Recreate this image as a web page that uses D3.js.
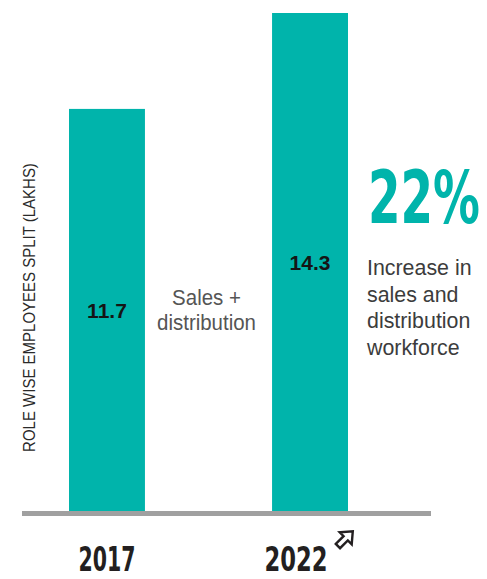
<!DOCTYPE html>
<html>
<head>
<meta charset="utf-8">
<script src="https://cdn.jsdelivr.net/npm/d3@7/dist/d3.min.js"></script>
<style>
  html, body { margin: 0; padding: 0; background: #ffffff; }
  svg { display: block; }
  .display { font-family: 'DejaVu Sans Condensed', 'DejaVu Sans', sans-serif; font-weight: 700; font-stretch: condensed; }
  .body { font-family: 'Liberation Sans', Arial, Helvetica, sans-serif; }
</style>
</head>
<body>
<svg id="chart" width="487" height="579"></svg>
<script>
// Role-wise employees, sales + distribution (lakhs)
const years = ["2017", "2022"];
const values = [11.7, 14.3];
const valueLabels = ["11.7", "14.3"];
const axisTitle = "ROLE WISE EMPLOYEES SPLIT (LAKHS)";
const seriesName = ["Sales +", "distribution"];
const growthLabel = "22%";
const growthNote = ["Increase in", "sales and", "distribution", "workforce"];
const yDomain = [0.8, 14.3];

const teal = "#00b4ab";
const svg = d3.select("#chart");

const x = d3.scaleBand()
  .domain(years)
  .range([28.4, 388.6])
  .paddingInner(0.626)
  .paddingOuter(0.2);

const y = d3.scaleLinear()
  .domain(yDomain)
  .range([511, 13]);

const data = years.map((yr, i) => ({ year: yr, value: values[i], label: valueLabels[i] }));

// bars
svg.append("g")
  .selectAll("rect")
  .data(data)
  .join("rect")
  .attr("x", d => x(d.year))
  .attr("y", d => y(d.value))
  .attr("width", x.bandwidth())
  .attr("height", d => y(yDomain[0]) - y(d.value))
  .attr("fill", teal);

// value labels in the middle of each bar
svg.append("g")
  .selectAll("text")
  .data(data)
  .join("text")
  .attr("class", "body")
  .attr("x", d => x(d.year) + x.bandwidth() / 2)
  .attr("y", d => (y(d.value) + y(yDomain[0])) / 2 + 8)
  .attr("text-anchor", "middle")
  .attr("font-size", 21)
  .attr("font-weight", 700)
  .attr("fill", "#151515")
  .text(d => d.label);

// baseline
svg.append("rect")
  .attr("x", 22)
  .attr("y", y(yDomain[0]))
  .attr("width", 409)
  .attr("height", 5)
  .attr("fill", "#a0a0a0");

// year labels (tall condensed display type)
svg.append("g")
  .selectAll("text")
  .data(data)
  .join("text")
  .attr("class", "display")
  .attr("transform", (d, i) => {
    const cx = x(d.year) + x.bandwidth() / 2 - (i === data.length - 1 ? 14 : 0);
    return `translate(${cx},571) scale(${i === data.length - 1 ? 1.05 : 0.95},1.43)`;
  })
  .attr("text-anchor", "middle")
  .attr("font-size", 24)
  .attr("fill", "#231f20")
  .text(d => d.year);

// outlined up-right arrow beside the latest year
svg.append("path")
  .attr("d", "M-10,-3 L1,-3 L1,-8.5 L11,0 L1,8.5 L1,3 L-10,3 Z")
  .attr("transform", "translate(345,539) rotate(-45)")
  .attr("fill", "#ffffff")
  .attr("stroke", "#231f20")
  .attr("stroke-width", 2.4)
  .attr("stroke-linejoin", "miter");

// y-axis title
svg.append("text")
  .attr("class", "body")
  .attr("transform", "translate(35,307.5) rotate(-90) scale(0.937,1)")
  .attr("text-anchor", "middle")
  .attr("font-size", 16)
  .attr("fill", "#2a2a2a")
  .text(axisTitle);

// series annotation between the bars
svg.append("g")
  .selectAll("text")
  .data(seriesName)
  .join("text")
  .attr("class", "body")
  .attr("transform", (d, i) => `translate(206.5,${305 + i * 25}) scale(0.93,1)`)
  .attr("text-anchor", "middle")
  .attr("font-size", 22)
  .attr("fill", "#555555")
  .text(d => d);

// growth callout
svg.append("text")
  .attr("class", "display")
  .attr("transform", "translate(368,223) scale(1,1.4)")
  .attr("font-size", 52)
  .attr("textLength", 112)
  .attr("lengthAdjust", "spacingAndGlyphs")
  .attr("fill", teal)
  .text(growthLabel);

svg.append("g")
  .selectAll("text")
  .data(growthNote)
  .join("text")
  .attr("class", "body")
  .attr("transform", (d, i) => `translate(367,${275 + i * 26.5}) scale(0.93,1)`)
  .attr("font-size", 23)
  .attr("fill", "#3c3c3c")
  .text(d => d);
</script>
</body>
</html>
